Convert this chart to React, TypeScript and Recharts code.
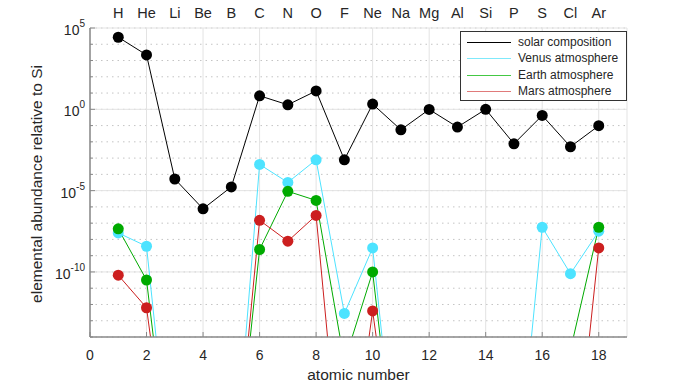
import React from "react";
import { LineChart, Line, XAxis, YAxis, CartesianGrid, ReferenceLine, Legend, Label } from "recharts";

// atomic numbers 1..18 and their symbols
const atomicNumbers = [1, 2, 3, 4, 5, 6, 7, 8, 9, 10, 11, 12, 13, 14, 15, 16, 17, 18];
const elements = ["H", "He", "Li", "Be", "B", "C", "N", "O", "F", "Ne", "Na", "Mg", "Al", "Si", "P", "S", "Cl", "Ar"];

// abundances relative to Si (1e-25 = not present, falls below the axis)
const solar = [2.7e4, 2.2e3, 5.2e-5, 7.6e-7, 1.7e-5, 6.8, 1.9, 13.5, 7.9e-4, 2.1, 5.5e-2, 0.98, 8.1e-2, 1, 7.6e-3, 0.42, 5e-3, 9.8e-2];
const venus = [2.5e-8, 3.8e-9, 1e-25, 1e-25, 1e-25, 4.1e-4, 3.2e-5, 7.9e-4, 2.8e-13, 3e-9, 1e-25, 1e-25, 1e-25, 1e-25, 1e-25, 5.6e-8, 7.8e-11, 3.2e-8];
const earth = [4.5e-8, 3.2e-11, 1e-25, 1e-25, 1e-25, 2.4e-9, 9.1e-6, 2.5e-6, 3e-16, 1e-10, 1e-25, 1e-25, 1e-25, 1e-25, 1e-25, 1e-25, 1.6e-15, 5.6e-8];
const mars = [6.3e-11, 6.3e-13, 1e-25, 1e-25, 1e-25, 1.5e-7, 7.8e-9, 3e-7, 1e-25, 4e-13, 1e-25, 1e-25, 1e-25, 1e-25, 1e-25, 1e-25, 1e-25, 3e-9];

const seriesNames = ["solar composition", "Venus atmosphere", "Earth atmosphere", "Mars atmosphere"];
const seriesKeys = ["solar", "venus", "earth", "mars"];
const seriesColors = ["#000000", "#4de3ff", "#00aa00", "#cc1f1f"];
const legendColors = ["#000000", "#7fe9fb", "#44c844", "#e07a7a"];

const xTicks = [0, 2, 4, 6, 8, 10, 12, 14, 16, 18];
const yDecades = [1e-14, 1e-13, 1e-12, 1e-11, 1e-10, 1e-9, 1e-8, 1e-7, 1e-6, 1e-5, 1e-4, 1e-3, 1e-2, 1e-1, 1, 1e1, 1e2, 1e3, 1e4, 1e5];
const yMajor = [1e-10, 1e-5, 1, 1e5];

const Y_MIN = 1e-14;
const TEXT = "#262626";
const AXIS = "#888888";
const GRID = "#e3e3e3";
const FONT = '"Liberation Sans", Arial, sans-serif';

const data = atomicNumbers.map((z, i) => ({
  z,
  solar: solar[i],
  venus: venus[i],
  earth: earth[i],
  mars: mars[i],
}));

const isMajor = (v: number) => yMajor.some((m) => Math.abs(Math.log10(m) - Math.log10(v)) < 1e-6);

const BottomTick = (props: any) => {
  const { x, y, payload } = props;
  return (
    <g>
      <line x1={x} x2={x} y1={y} y2={y - 5} stroke={AXIS} />
      <text x={x} y={y + 23} textAnchor="middle" fontSize={14} fill={TEXT}>
        {payload.value}
      </text>
    </g>
  );
};

const TopTick = (props: any) => {
  const { x, y, payload } = props;
  return (
    <text x={x} y={y - 10} textAnchor="middle" fontSize={14.5} fill={TEXT}>
      {elements[payload.value - 1]}
    </text>
  );
};

const LeftTick = (props: any) => {
  const { x, y, payload } = props;
  const major = isMajor(payload.value);
  const exp = Math.round(Math.log10(payload.value));
  return (
    <g>
      <line x1={x} x2={x + (major ? 5 : 3)} y1={y} y2={y} stroke={AXIS} />
      {major && (
        <text x={x - 5} y={y + 7} textAnchor="end" fontSize={14} fill={TEXT}>
          <tspan>10</tspan>
          <tspan dy={-8} fontSize={10}>
            {exp}
          </tspan>
        </text>
      )}
    </g>
  );
};

const makeDot = (color: string) => (props: any) => {
  const { cx, cy, value, index } = props;
  if (value == null || value < Y_MIN || cx == null || cy == null) return <g key={index} />;
  return <circle key={index} cx={cx} cy={cy} r={5.5} fill={color} stroke="none" />;
};

const LegendBox = () => (
  <div
    style={{
      position: "relative",
      width: 167,
      height: 70,
      boxSizing: "border-box",
      border: "1px solid #333",
      background: "#fff",
      fontFamily: FONT,
      fontSize: 12,
      color: TEXT,
    }}
  >
    {seriesNames.map((name, i) => (
      <div
        key={name}
        style={{ position: "absolute", left: 6, top: 1.5 + i * 16.5, height: 17, lineHeight: "17px", whiteSpace: "nowrap" }}
      >
        <svg width={44} height={17} style={{ verticalAlign: "top" }}>
          <line x1={0} x2={44} y1={8.5} y2={8.5} stroke={legendColors[i]} strokeWidth={1.2} />
        </svg>
        <span style={{ position: "absolute", left: 51, top: 0 }}>{name}</span>
      </div>
    ))}
  </div>
);

export default function App() {
  return (
    <div style={{ position: "absolute", left: 0, top: 0, width: 692, height: 385, background: "#fff", fontFamily: FONT }}>
      <LineChart width={692} height={385} data={data} margin={{ top: 0, right: 65, bottom: 0, left: 30 }}>
        {/* dotted decade lines, solid verticals at the even ticks */}
        <CartesianGrid stroke="#c4c4c4" strokeDasharray="1.5 4" vertical={false} />
        <CartesianGrid stroke={GRID} horizontal={false} />
        {yMajor.map((v) => (
          <ReferenceLine key={v} y={v} stroke={GRID} strokeWidth={1} ifOverflow="visible" zIndex={-50} />
        ))}
        <XAxis
          dataKey="z"
          type="number"
          domain={[0, 19]}
          ticks={xTicks}
          interval={0}
          height={48}
          tickSize={0}
          tickMargin={0}
          tickLine={false}
          axisLine={{ stroke: AXIS, strokeWidth: 1.5 }}
          tick={<BottomTick />}
        >
          <Label
            content={({ viewBox }: any) => (
              <text x={viewBox.x + viewBox.width / 2} y={viewBox.y + 43} textAnchor="middle" fontSize={15.5} fill={TEXT}>
                atomic number
              </text>
            )}
          />
        </XAxis>
        <XAxis
          xAxisId="top"
          dataKey="z"
          type="number"
          orientation="top"
          domain={[0, 19]}
          ticks={atomicNumbers}
          interval={0}
          height={28}
          tickSize={0}
          tickMargin={0}
          tickLine={false}
          axisLine={false}
          tick={<TopTick />}
        />
        <YAxis
          scale="log"
          type="number"
          domain={[Y_MIN, 1e5]}
          allowDataOverflow
          ticks={yDecades}
          interval={0}
          width={60}
          tickSize={0}
          tickMargin={0}
          tickLine={false}
          axisLine={{ stroke: AXIS, strokeWidth: 1.5 }}
          tick={<LeftTick />}
        >
          <Label
            content={() => (
              <text x={42} y={184} transform="rotate(-90, 42, 184)" textAnchor="middle" fontSize={15.5} fill={TEXT}>
                elemental abundance relative to Si
              </text>
            )}
          />
        </YAxis>
        {seriesKeys.map((key, i) => (
          <Line
            key={key}
            dataKey={key}
            name={seriesNames[i]}
            type="linear"
            stroke={seriesColors[i]}
            strokeWidth={1}
            dot={makeDot(seriesColors[i])}
            activeDot={false}
            isAnimationActive={false}
          />
        ))}
        <Legend
          layout="vertical"
          align="center"
          verticalAlign="middle"
          content={() => <LegendBox />}
          wrapperStyle={{ left: 460, top: 31, width: 167, height: 70 }}
        />
      </LineChart>
    </div>
  );
}
